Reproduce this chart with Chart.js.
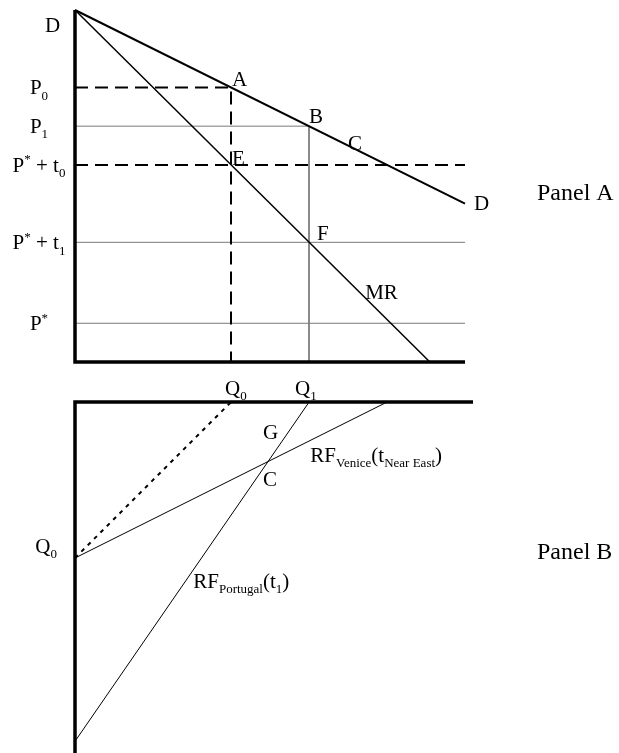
<!DOCTYPE html>
<html>
<head>
<meta charset="utf-8">
<script src="https://cdn.jsdelivr.net/npm/chart.js@4.4.1/dist/chart.umd.min.js"></script>
<style>
  body { margin: 0; background: #fff; }
  #wrap { position: relative; width: 619px; height: 753px; }
  #panelA { position: absolute; left: 0; top: 0; }
  #panelB { position: absolute; left: 0; top: 372px; }
</style>
</head>
<body>
<div id="wrap">
  <canvas id="panelA" width="619" height="372"></canvas>
  <canvas id="panelB" width="619" height="381"></canvas>
</div>
<script>
// ---- Panel A: demand, marginal revenue and price levels ----
const qLevels = [4, 6];                        // Q0, Q1
const demandLine = [[0, 10], [10, 4.5]];       // D
const mrLine = [[0, 10], [9.1, 0]];            // MR
const priceLevels = [7.8, 6.7, 5.6, 3.4, 1.1]; // P0, P1, P*+t0, P*+t1, P*
const priceLabels = ["P_{0}", "P_{1}", "P^{*} + t_{0}", "P^{*} + t_{1}", "P^{*}"];
const qLabels = ["Q_{0}", "Q_{1}"];
const qMaxA = 10;

// ---- Panel B: reaction functions ----
const veniceRF = [[0, 4], [8, 0]];
const portugalRF = [[6, 0], [0, 8.7]];
const veniceOld = [[0, 4], [4, 0]];
const qMaxB = 10.2;
const depthB = 9;

const FONT = "'Liberation Serif', 'Times New Roman', serif";

function pts(arr) {
  return arr.map(p => ({ x: p[0], y: p[1] }));
}

function line(data, opts) {
  return Object.assign({
    data: pts(data),
    showLine: true,
    pointRadius: 0,
    borderColor: "#000",
    borderWidth: 1,
    fill: false,
    clip: false,
    borderCapStyle: "butt",
  }, opts);
}

// draws text like "P^{*} + t_{0}" with sub/superscripts
function drawRich(ctx, str, x, y, align, size) {
  const parts = [];
  const re = /(_|\^)\{([^}]*)\}/g;
  let last = 0, m;
  while ((m = re.exec(str))) {
    if (m.index > last) parts.push([str.slice(last, m.index), ""]);
    parts.push([m[2], m[1] === "_" ? "sub" : "sup"]);
    last = re.lastIndex;
  }
  if (last < str.length) parts.push([str.slice(last), ""]);

  const small = Math.round(size * 0.62);
  const fontOf = p => (p[1] ? small : size) + "px " + FONT;
  let w = 0;
  parts.forEach(p => { ctx.font = fontOf(p); w += ctx.measureText(p[0]).width; });
  let cx = align === "right" ? x - w : align === "center" ? x - w / 2 : x;
  parts.forEach(p => {
    ctx.font = fontOf(p);
    const dy = p[1] === "sub" ? size * 0.25 : p[1] === "sup" ? -size * 0.4 : 0;
    ctx.fillText(p[0], cx, y + dy);
    cx += ctx.measureText(p[0]).width;
  });
}

function labelPlugin(labels) {
  return {
    id: "labels",
    afterDraw(chart) {
      const ctx = chart.ctx;
      const xs = chart.scales.x, ys = chart.scales.y;
      ctx.save();
      ctx.fillStyle = "#000";
      ctx.textBaseline = "alphabetic";
      labels.forEach(l => {
        const px = xs.getPixelForValue(l.at[0]) + (l.dx || 0);
        const py = ys.getPixelForValue(l.at[1]) + (l.dy || 0);
        drawRich(ctx, l.text, px, py, l.align || "left", l.size || 21);
      });
      ctx.restore();
    },
  };
}

function baseOptions(pad, xMax, yMax, reverse) {
  return {
    responsive: false,
    animation: false,
    events: [],
    layout: { padding: pad },
    plugins: { legend: { display: false }, tooltip: { enabled: false } },
    scales: {
      x: { type: "linear", min: 0, max: xMax, display: false },
      y: { type: "linear", min: 0, max: yMax, reverse: reverse, display: false },
    },
  };
}

// Panel A
const [Q0, Q1] = qLevels;
const [P0, P1, Pt0, Pt1, Ps] = priceLevels;
const gray = "#7a7a7a";

const labelsA = [
  { at: [0, 10], text: "D", dx: -30, dy: 22 },
  { at: [Q0, P0], text: "A", dx: 1, dy: -1 },
  { at: [Q1, P1], text: "B", dx: 0, dy: -3 },
  { at: [7.0, 6.15], text: "C", dx: 0, dy: 4 },
  { at: [Q0, Pt0], text: "E", dx: 1, dy: 0 },
  { at: [Q1, Pt1], text: "F", dx: 8, dy: -2 },
  { at: [7.44, 1.82], text: "MR", dx: 0, dy: 1 },
  { at: demandLine[1], text: "D", dx: 9, dy: 6 },
  { at: [qMaxA, 4.83], text: "Panel A", dx: 72, dy: 8, size: 24 },
].concat(priceLevels.map((p, i) => (
  { at: [0, p], text: priceLabels[i], dx: -36, dy: 7, align: "center" }
)));

new Chart(document.getElementById("panelA"), {
  type: "scatter",
  data: {
    datasets: [
      line([[0, 10], [0, 0], [qMaxA, 0]], { borderWidth: 3.5, order: 0 }),
      line(demandLine, { borderWidth: 2, order: 1 }),
      line(mrLine, { borderWidth: 1.5, order: 1 }),
      line([[0, P0], [Q0, P0], [Q0, 0]], { borderWidth: 2, borderDash: [13, 7], order: 2 }),
      line([[0, Pt0], [qMaxA, Pt0]], { borderWidth: 2, borderDash: [13, 7], order: 2 }),
      line([[0, P1], [Q1, P1], [Q1, 0]], { borderColor: gray, order: 3 }),
      line([[0, Pt1], [qMaxA, Pt1]], { borderColor: gray, order: 3 }),
      line([[0, Ps], [qMaxA, Ps]], { borderColor: gray, order: 3 }),
    ],
  },
  options: baseOptions({ left: 75, right: 154, top: 10, bottom: 10 }, qMaxA, 10, false),
  plugins: [labelPlugin(labelsA)],
});

// Panel B
const labelsB = [
  { at: [Q0, 0], text: qLabels[0], dx: -6, dy: -7 },
  { at: [Q1, 0], text: qLabels[1], dx: -14, dy: -7 },
  { at: [4.82, 0.95], text: "G" },
  { at: [4.82, 2.15], text: "C" },
  { at: [6.03, 1.54], text: "RF_{Venice}(t_{Near East})" },
  { at: [3.03, 4.77], text: "RF_{Portugal}(t_{1})" },
  { at: [0, 4], text: "Q_{0}", dx: -18, dy: -5, align: "right" },
  { at: [qMaxB, 3.82], text: "Panel B", dx: 64, dy: 8, size: 24 },
];

new Chart(document.getElementById("panelB"), {
  type: "scatter",
  data: {
    datasets: [
      line([[0, depthB], [0, 0], [qMaxB, 0]], { borderWidth: 3.5, order: 0 }),
      line(veniceRF, { order: 1 }),
      line(portugalRF, { order: 1 }),
      line(veniceOld, { borderWidth: 2, borderDash: [4, 5], order: 2 }),
    ],
  },
  options: baseOptions({ left: 75, right: 146, top: 30, bottom: 0 }, qMaxB, depthB, true),
  plugins: [labelPlugin(labelsB)],
});
</script>
</body>
</html>
